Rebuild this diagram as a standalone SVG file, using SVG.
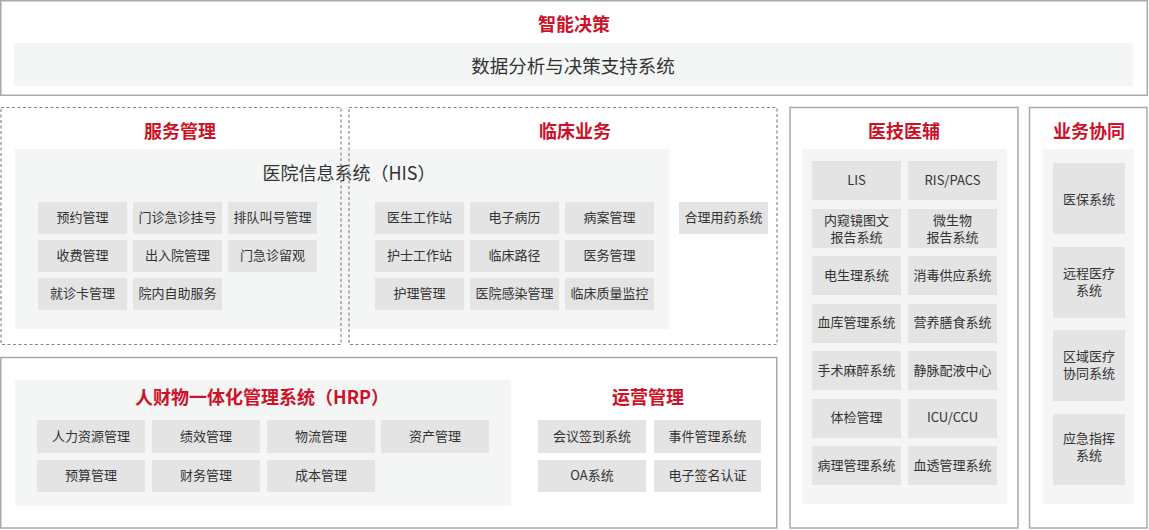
<svg xmlns="http://www.w3.org/2000/svg" width="1149" height="530" viewBox="0 0 1149 530">
<style>
text{font-family:"Noto Sans CJK SC","Noto Sans",sans-serif;text-anchor:middle;dominant-baseline:central;transform:translateY(-1.2px);}
.box{fill:none;stroke:#aaaaaa;stroke-width:1.5;}
.dash{fill:none;stroke:#888888;stroke-width:1.2;stroke-dasharray:3 2.5;}
.area{fill:#f4f5f5;}
.cell{fill:#e4e4e4;}
.ct{font-size:13px;fill:#333333;}
.ttl{font-size:18px;font-weight:bold;fill:#cc1128;}
.big{font-size:18.5px;fill:#333333;}
</style>
<rect width="1149" height="530" fill="#ffffff"/>

<g id="smart-decision">
<rect class="box" x="0.75" y="0.75" width="1146.5" height="94.5"/>
<text class="ttl" x="574" y="24">智能决策</text>
<rect class="area" x="14" y="43" width="1119" height="43"/>
<text class="big" x="573" y="66">数据分析与决策支持系统</text>
</g>

<g id="his">
<rect class="area" x="15" y="149" width="654" height="180"/>
<text class="big" x="349" y="173" style="font-size:18px">医院信息系统（HIS）</text>
</g>

<g id="service-management">
<rect class="dash" x="1" y="107.5" width="340" height="237"/>
<text class="ttl" x="180" y="131">服务管理</text>
<g id="svc-cells">
<rect class="cell" x="38" y="202" width="89" height="32"/><text class="ct" x="82.5" y="218">预约管理</text>
<rect class="cell" x="133" y="202" width="89" height="32"/><text class="ct" x="177.5" y="218">门诊急诊挂号</text>
<rect class="cell" x="228" y="202" width="89" height="32"/><text class="ct" x="272.5" y="218">排队叫号管理</text>
<rect class="cell" x="38" y="240" width="89" height="32"/><text class="ct" x="82.5" y="256">收费管理</text>
<rect class="cell" x="133" y="240" width="89" height="32"/><text class="ct" x="177.5" y="256">出入院管理</text>
<rect class="cell" x="228" y="240" width="89" height="32"/><text class="ct" x="272.5" y="256">门急诊留观</text>
<rect class="cell" x="38" y="278" width="89" height="32"/><text class="ct" x="82.5" y="294">就诊卡管理</text>
<rect class="cell" x="133" y="278" width="89" height="32"/><text class="ct" x="177.5" y="294">院内自助服务</text>
</g>
</g>

<g id="clinical-business">
<rect class="dash" x="349" y="107.5" width="428" height="237"/>
<text class="ttl" x="575" y="131">临床业务</text>
<g id="clin-cells">
<rect class="cell" x="375" y="202" width="89" height="32"/><text class="ct" x="419.5" y="218">医生工作站</text>
<rect class="cell" x="470" y="202" width="89" height="32"/><text class="ct" x="514.5" y="218">电子病历</text>
<rect class="cell" x="565" y="202" width="89" height="32"/><text class="ct" x="609.5" y="218">病案管理</text>
<rect class="cell" x="375" y="240" width="89" height="32"/><text class="ct" x="419.5" y="256">护士工作站</text>
<rect class="cell" x="470" y="240" width="89" height="32"/><text class="ct" x="514.5" y="256">临床路径</text>
<rect class="cell" x="565" y="240" width="89" height="32"/><text class="ct" x="609.5" y="256">医务管理</text>
<rect class="cell" x="375" y="278" width="89" height="32"/><text class="ct" x="419.5" y="294">护理管理</text>
<rect class="cell" x="470" y="278" width="89" height="32"/><text class="ct" x="514.5" y="294">医院感染管理</text>
<rect class="cell" x="565" y="278" width="89" height="32"/><text class="ct" x="609.5" y="294">临床质量监控</text>
<rect class="cell" x="679" y="202" width="89" height="32"/><text class="ct" x="723.5" y="218">合理用药系统</text>
</g>
</g>

<g id="medical-tech">
<rect class="box" x="790" y="107.5" width="228" height="420.5"/>
<text class="ttl" x="904" y="131">医技医辅</text>
<rect class="area" x="802" y="149" width="205" height="355"/>
<rect class="cell" x="812" y="161" width="89" height="39"/><text class="ct" x="856.5" y="181">LIS</text>
<rect class="cell" x="908" y="161" width="89" height="39"/><text class="ct" x="952.5" y="181">RIS/PACS</text>
<rect class="cell" x="812" y="209" width="89" height="39"/><text class="ct" x="856.5" y="220"><tspan x="856.5" y="220">内窥镜图文</tspan><tspan x="856.5" y="237">报告系统</tspan></text>
<rect class="cell" x="908" y="209" width="89" height="39"/><text class="ct" x="952.5" y="220"><tspan x="952.5" y="220">微生物</tspan><tspan x="952.5" y="237">报告系统</tspan></text>
<rect class="cell" x="812" y="256" width="89" height="39"/><text class="ct" x="856.5" y="276">电生理系统</text>
<rect class="cell" x="908" y="256" width="89" height="39"/><text class="ct" x="952.5" y="276">消毒供应系统</text>
<rect class="cell" x="812" y="304" width="89" height="39"/><text class="ct" x="856.5" y="323">血库管理系统</text>
<rect class="cell" x="908" y="304" width="89" height="39"/><text class="ct" x="952.5" y="323">营养膳食系统</text>
<rect class="cell" x="812" y="351" width="89" height="39"/><text class="ct" x="856.5" y="371">手术麻醉系统</text>
<rect class="cell" x="908" y="351" width="89" height="39"/><text class="ct" x="952.5" y="371">静脉配液中心</text>
<rect class="cell" x="812" y="399" width="89" height="39"/><text class="ct" x="856.5" y="418">体检管理</text>
<rect class="cell" x="908" y="399" width="89" height="39"/><text class="ct" x="952.5" y="418">ICU/CCU</text>
<rect class="cell" x="812" y="446" width="89" height="39"/><text class="ct" x="856.5" y="466">病理管理系统</text>
<rect class="cell" x="908" y="446" width="89" height="39"/><text class="ct" x="952.5" y="466">血透管理系统</text>
</g>

<g id="business-collab">
<rect class="box" x="1029.5" y="107.5" width="117.5" height="420.5"/>
<text class="ttl" x="1089" y="131">业务协同</text>
<rect class="area" x="1043" y="149" width="91" height="355"/>
<rect class="cell" x="1053" y="163" width="72" height="71"/><text class="ct" x="1089" y="200">医保系统</text>
<rect class="cell" x="1053" y="247" width="72" height="71"/><text class="ct" x="1089" y="273.5"><tspan x="1089" y="273.5">远程医疗</tspan><tspan x="1089" y="290.5">系统</tspan></text>
<rect class="cell" x="1053" y="330" width="72" height="71"/><text class="ct" x="1089" y="356"><tspan x="1089" y="356">区域医疗</tspan><tspan x="1089" y="373">协同系统</tspan></text>
<rect class="cell" x="1053" y="414" width="72" height="71"/><text class="ct" x="1089" y="438"><tspan x="1089" y="438">应急指挥</tspan><tspan x="1089" y="455">系统</tspan></text>
</g>

<g id="hrp-operations">
<rect class="box" x="0.75" y="357.5" width="776" height="170.5"/>
<g id="hrp">
<rect class="area" x="15" y="380" width="496" height="126"/>
<text class="ttl" x="262" y="397">人财物一体化管理系统（HRP）</text>
<rect class="cell" x="37" y="420" width="108" height="33"/><text class="ct" x="91" y="437">人力资源管理</text>
<rect class="cell" x="152" y="420" width="108" height="33"/><text class="ct" x="206" y="437">绩效管理</text>
<rect class="cell" x="267" y="420" width="108" height="33"/><text class="ct" x="321" y="437">物流管理</text>
<rect class="cell" x="381" y="420" width="108" height="33"/><text class="ct" x="435" y="437">资产管理</text>
<rect class="cell" x="37" y="460" width="108" height="32"/><text class="ct" x="91" y="476">预算管理</text>
<rect class="cell" x="152" y="460" width="108" height="32"/><text class="ct" x="206" y="476">财务管理</text>
<rect class="cell" x="267" y="460" width="108" height="32"/><text class="ct" x="321" y="476">成本管理</text>
</g>
<g id="operations">
<text class="ttl" x="648" y="397">运营管理</text>
<rect class="cell" x="538" y="420" width="108" height="33"/><text class="ct" x="592" y="437">会议签到系统</text>
<rect class="cell" x="654" y="420" width="107" height="33"/><text class="ct" x="707.5" y="437">事件管理系统</text>
<rect class="cell" x="538" y="460" width="108" height="32"/><text class="ct" x="592" y="476">OA系统</text>
<rect class="cell" x="654" y="460" width="107" height="32"/><text class="ct" x="707.5" y="476">电子签名认证</text>
</g>
</g>
</svg>
